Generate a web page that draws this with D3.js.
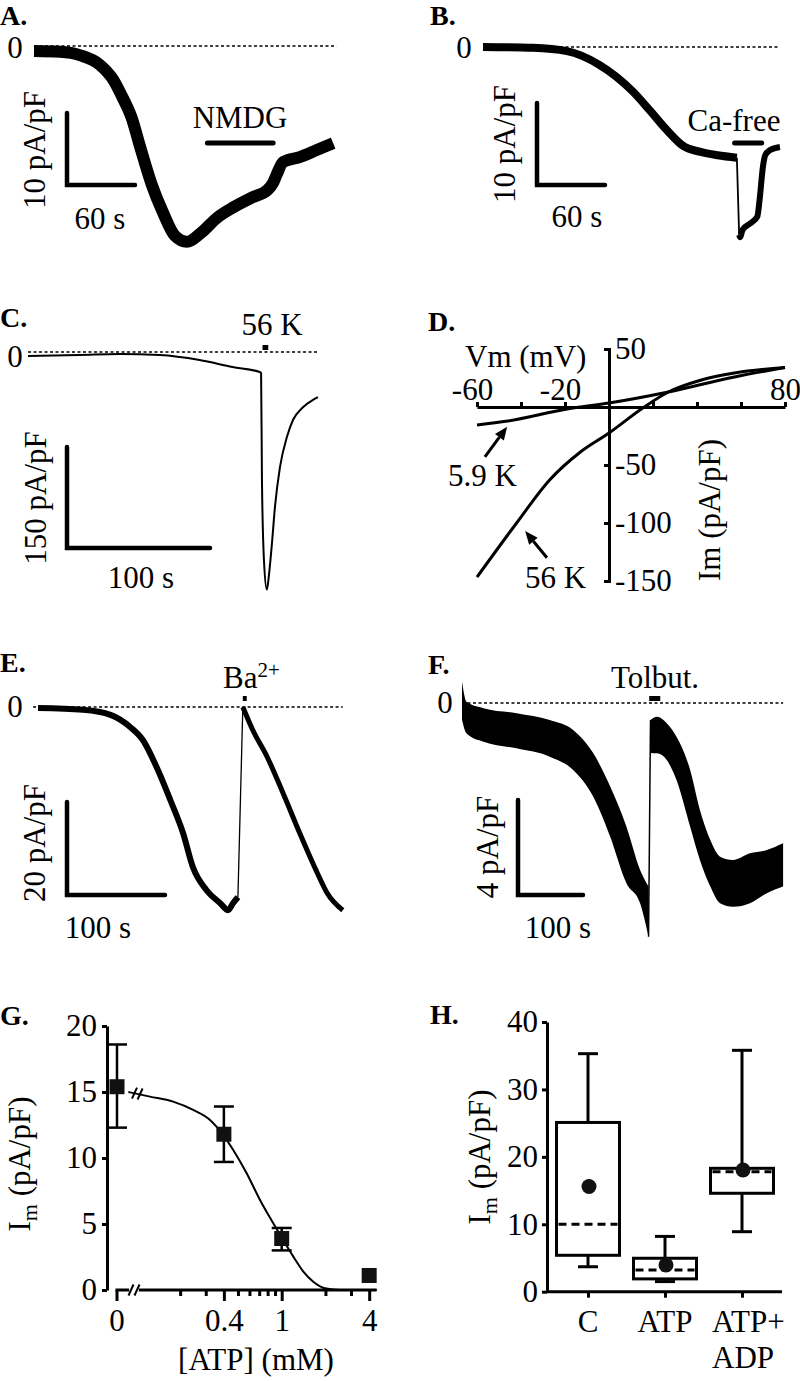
<!DOCTYPE html>
<html>
<head>
<meta charset="utf-8">
<script src="https://cdn.jsdelivr.net/npm/d3@7"></script>
<style>
  body { margin: 0; background: #fff; }
  svg text { font-family: "Liberation Serif", "Times New Roman", Times, "DejaVu Serif", "Noto Serif", serif; fill: #000; }
</style>
</head>
<body>
<svg id="fig" width="800" height="1381"></svg>
<script>
// ---- data: time in s, current in pA/pF ----

// A. NMDG
const aTime = [0, 23, 41, 58, 70, 78, 86, 94, 104, 114, 124, 135, 147, 162, 176, 193, 206, 211, 214, 220, 235, 250, 264];
const aCurrent = [-0.7, -0.8, -1.3, -2.6, -4.7, -7.1, -9.9, -14.2, -19.3, -23.2, -26.3, -27.2, -26.0, -23.8, -22.4, -21.0, -20.0, -19.0, -17.9, -16.1, -15.4, -14.4, -13.5];
const aNmdg = [153, 211];
const aZero = [0, 267];

// B. Ca-free
const bTime1 = [0, 44, 74, 103, 132, 147, 162, 177, 192, 207, 224];
const bCurrent1 = [0, -0.1, -0.5, -2.2, -5.4, -7.7, -10.1, -12.1, -12.8, -13.2, -13.5];
const bTime2 = [226, 227, 229, 236, 242, 244, 247, 249, 253, 262];
const bCurrent2 = [-22.9, -23.2, -22.3, -21.5, -20.7, -18.7, -14.6, -13.2, -12.6, -12.2];
const bCaFree = [222, 246];
const bZero = [0, 262];

// C. 56 K
const cTime = [0, 36, 64, 92, 120, 143, 162, 163, 163.6, 165, 167, 168.5, 170.6, 172.7, 176.2, 181.1, 185.3, 192.3, 199.3, 202.8];
const cCurrent = [-5.9, -4.5, -3.0, -4.5, -11.9, -22.3, -29.7, -31.2, -190, -309, -353, -331, -284, -230, -171, -126, -101, -82, -71, -67];
const cPulse = [164, 168];
const cZero = [0, 203];

// D. I-V relations (Vm in mV, Im in pA/pF)
const dVm59 = [-60, -46, -19, 0, 27, 57, 80];
const dIm59 = [-15.5, -12.1, -1.7, 3.4, 12.9, 25.9, 34];
const dVm56 = [-60, -42, -27, -13, 0, 16, 27, 42, 57, 80];
const dIm56 = [-146.6, -100, -62.9, -38.8, -22.4, 0, 12.9, 23.3, 29.3, 34];
const dXTicks = [-60, -40, -20, 0, 20, 40, 60, 80];
const dXLabels = [-60, -20, 80];
const dYTicks = [50, -50, -100, -150];

// E. Ba2+
const eTime1 = [0, 46, 74, 94, 107, 121, 135, 148, 158, 172, 186, 194, 199, 204];
const eCurrent1 = [-0.2, -0.6, -1.7, -4.3, -7.1, -12.9, -20.0, -27.1, -34.4, -39.4, -42.2, -43.7, -42.2, -40.9];
const eTime2 = [209, 219, 234, 250, 267, 285, 295, 311];
const eCurrent2 = [0, -4.9, -10.8, -18.5, -27.1, -35.7, -40.0, -43.7];
const eBa = [209, 213];
const eZero = [-5, 311];

// F. Tolbutamide (noise band, upper / lower edge)
const fTime1 = [0, 7, 33, 84, 135, 171, 202, 228, 253, 274, 287];
const fHigh1 = [0.9, 0.05, -0.22, -0.43, -0.72, -1.14, -2.12, -3.52, -5.21, -7.03, -7.73];
const fLow1 = [-0.7, -1.28, -1.63, -1.91, -2.26, -2.82, -3.95, -5.63, -7.59, -8.43, -9.84];
const fTime2 = [290, 300, 315, 330, 351, 366, 382, 397, 417, 443, 469, 494];
const fHigh2 = [-0.72, -0.58, -0.85, -1.42, -2.82, -4.51, -5.77, -6.47, -6.61, -6.33, -6.19, -5.91];
const fLow2 = [-2.1, -2.12, -2.40, -3.24, -5.21, -6.61, -7.73, -8.43, -8.58, -8.43, -8.01, -7.73];
const fTolbut = [288, 305];
const fZero = [0, 494];

// G. ATP dose-response
const gAtp = [0, 0.4, 1, 4];
const gMean = [15.4, 11.8, 3.9, 1.1];
const gErrHigh = [18.6, 13.9, 4.7, null];
const gErrLow = [12.3, 9.7, 3.0, null];
const gFitAtp = [0.088, 0.124, 0.179, 0.246, 0.321, 0.396, 0.464, 0.574, 0.709, 0.875, 1.016, 1.202, 1.409, 1.649, 1.986, 2.52, 4.5];
const gFitIm = [15.0, 14.65, 14.27, 13.64, 12.88, 11.74, 10.61, 8.84, 6.82, 5.05, 3.84, 2.53, 1.39, 0.63, 0.13, 0, 0];
const gYTicks = [0, 5, 10, 15, 20];
const gMajorTicks = [0.4, 1, 4];
const gMinorTicks = [0.2, 0.3, 0.5, 0.6, 0.7, 0.8, 0.9, 2, 3];

// H. box plots
const hGroups = ['C', 'ATP', 'ATP+ADP'];
const hWhiskLow = [3.7, 1.5, 8.9];
const hQ1 = [5.4, 1.9, 14.6];
const hMedian = [10.0, 3.2, 17.8];
const hQ3 = [25.1, 4.96, 18.3];
const hWhiskHigh = [35.3, 8.2, 35.8];
const hMean = [15.6, 3.96, 18.06];
const hYTicks = [0, 10, 20, 30, 40];

// ---- drawing ----
const FONT = '"Liberation Serif", "Times New Roman", Times, "DejaVu Serif", "Noto Serif", serif';
const svg = d3.select('#fig').attr('font-family', FONT);
svg.append('rect').attr('width', 800).attr('height', 1381).attr('fill', '#fff');

function addText(x, y, str, o = {}) {
  return svg.append('text')
    .attr('x', x).attr('y', y)
    .attr('font-family', FONT)
    .attr('text-anchor', o.anchor || 'middle')
    .attr('font-size', o.size || 31)
    .attr('font-weight', o.bold ? 'bold' : null)
    .text(str);
}

function addVText(cx, cy, str, size = 31) {
  return svg.append('text')
    .attr('transform', `translate(${cx},${cy}) rotate(-90)`)
    .attr('font-family', FONT)
    .attr('text-anchor', 'middle')
    .attr('dy', '0.25em')
    .attr('font-size', size)
    .text(str);
}

function zeroLine(xs, ys, span) {
  svg.append('line')
    .attr('x1', xs(span[0])).attr('x2', xs(span[1]))
    .attr('y1', ys(0)).attr('y2', ys(0))
    .attr('stroke', '#000').attr('stroke-width', 1.3)
    .attr('stroke-dasharray', '3,2.5');
}

function trace(xs, ys, t, v, w) {
  const pts = t.map((d, i) => [xs(d), ys(v[i])]);
  svg.append('path')
    .attr('d', d3.line().curve(d3.curveMonotoneX)(pts))
    .attr('fill', 'none').attr('stroke', '#000').attr('stroke-width', w)
    .attr('stroke-linejoin', 'round');
}

function link(xs, ys, t0, v0, t1, v1, w) {
  svg.append('line')
    .attr('x1', xs(t0)).attr('y1', ys(v0))
    .attr('x2', xs(t1)).attr('y2', ys(v1))
    .attr('stroke', '#000').attr('stroke-width', w);
}

function scaleBar(x, y, xs, ys, dt, dI) {
  const w = xs(dt) - xs(0);
  const h = Math.abs(ys(dI) - ys(0));
  svg.append('path')
    .attr('d', `M${x},${y - h}V${y}H${x + w}`)
    .attr('fill', 'none').attr('stroke', '#000').attr('stroke-width', 4.5)
    .attr('stroke-linecap', 'round');
}

function barMark(xs, span, y, w) {
  svg.append('line')
    .attr('x1', xs(span[0])).attr('x2', xs(span[1]))
    .attr('y1', y).attr('y2', y)
    .attr('stroke', '#000').attr('stroke-width', w).attr('stroke-linecap', 'round');
}

function boxMark(xs, span, y, h) {
  svg.append('rect')
    .attr('x', xs(span[0])).attr('y', y)
    .attr('width', xs(span[1]) - xs(span[0])).attr('height', h)
    .attr('fill', '#000');
}

function styleAxis(g) {
  g.attr('font-size', 31).attr('font-family', FONT);
  g.selectAll('text').attr('font-family', FONT);
  g.selectAll('path, line').attr('stroke', '#000').attr('stroke-width', 3);
  return g;
}

// panel letters
[['A.', 0, 25], ['B.', 430, 25], ['C.', 0, 327], ['D.', 428, 331],
 ['E.', 0, 672], ['F.', 428, 674], ['G.', 0, 1025], ['H.', 430, 1024]]
  .forEach(([s, x, y]) => addText(x, y, s, { anchor: 'start', bold: true, size: 28 }));

// ----- A -----
const xA = d3.scaleLinear().domain([0, 60]).range([34, 102]);
const yA = d3.scaleLinear().domain([0, -10]).range([46, 118]);
zeroLine(xA, yA, aZero);
trace(xA, yA, aTime, aCurrent, 12);
barMark(xA, aNmdg, 143, 5);
addText(240, 128, 'NMDG');
addText(15, 58, '0');
scaleBar(67, 185, xA, yA, 60, -10);
addVText(37, 150, '10 pA/pF');
addText(100, 229, '60 s');

// ----- B -----
const xB = d3.scaleLinear().domain([0, 60]).range([483, 551]);
const yB = d3.scaleLinear().domain([0, -10]).range([47, 129]);
zeroLine(xB, yB, bZero);
trace(xB, yB, bTime1, bCurrent1, 8);
link(xB, yB, bTime1[bTime1.length - 1], bCurrent1[bCurrent1.length - 1], bTime2[0], bCurrent2[0], 1.8);
trace(xB, yB, bTime2, bCurrent2, 6);
barMark(xB, bCaFree, 143, 5);
addText(734, 131, 'Ca-free');
addText(464, 58, '0');
scaleBar(537, 185, xB, yB, 60, -10);
addVText(507, 144, '10 pA/pF');
addText(577, 227, '60 s');

// ----- C -----
const xC = d3.scaleLinear().domain([0, 100]).range([28, 171]);
const yC = d3.scaleLinear().domain([0, -150]).range([352, 453]);
zeroLine(xC, yC, cZero);
trace(xC, yC, cTime, cCurrent, 2);
boxMark(xC, cPulse, 345, 5);
addText(272, 335, '56 K');
addText(15, 367, '0');
scaleBar(67, 548, xC, yC, 100, -150);
addVText(38, 498, '150 pA/pF');
addText(141, 588, '100 s');

// ----- D -----
const xD = d3.scaleLinear().domain([-60, 80]).range([477, 785]);
const yD = d3.scaleLinear().domain([-150, 50]).range([581, 349]);
const dxAxis = svg.append('g').attr('transform', `translate(0,${yD(0)})`)
  .call(d3.axisTop(xD).tickValues(dXTicks).tickSize(5).tickSizeOuter(0).tickPadding(2)
    .tickFormat(d => dXLabels.includes(d) ? String(d) : ''));
styleAxis(dxAxis);
dxAxis.selectAll('text').attr('dx', d => d < 0 ? -5 : 0);
const dyAxis = svg.append('g').attr('transform', `translate(${xD(0)},0)`)
  .call(d3.axisRight(yD).tickValues(dYTicks).tickSize(-5).tickSizeOuter(-5).tickPadding(6)
    .tickFormat(d => String(d)));
styleAxis(dyAxis);
const ivLine = d3.line().curve(d3.curveMonotoneX);
svg.append('path').attr('d', ivLine(dVm59.map((v, i) => [xD(v), yD(dIm59[i])])))
  .attr('fill', 'none').attr('stroke', '#000').attr('stroke-width', 3);
svg.append('path').attr('d', ivLine(dVm56.map((v, i) => [xD(v), yD(dIm56[i])])))
  .attr('fill', 'none').attr('stroke', '#000').attr('stroke-width', 3);
addText(465, 367, 'Vm (mV)', { anchor: 'start' });
addVText(712, 510, 'Im (pA/pF)');

function arrow(from, to) {
  const x0 = xD(from[0]), y0 = yD(from[1]), x1 = xD(to[0]), y1 = yD(to[1]);
  const a = Math.atan2(y1 - y0, x1 - x0);
  const L = 13, W = 5.5;
  const bx = x1 - L * Math.cos(a), by = y1 - L * Math.sin(a);
  svg.append('line').attr('x1', x0).attr('y1', y0).attr('x2', bx).attr('y2', by)
    .attr('stroke', '#000').attr('stroke-width', 3);
  svg.append('path')
    .attr('d', `M${x1},${y1}L${bx - W * Math.sin(a)},${by + W * Math.cos(a)}L${bx + W * Math.sin(a)},${by - W * Math.cos(a)}Z`)
    .attr('fill', '#000');
}
arrow([-56.4, -43], [-46.3, -17]);
arrow([-28.2, -130], [-38.1, -107]);
addText(448, 486, '5.9 K', { anchor: 'start' });
addText(525, 588, '56 K', { anchor: 'start' });

// ----- E -----
const xE = d3.scaleLinear().domain([0, 100]).range([38, 136]);
const yE = d3.scaleLinear().domain([0, -20]).range([707, 800]);
zeroLine(xE, yE, eZero);
trace(xE, yE, eTime1, eCurrent1, 6);
link(xE, yE, eTime1[eTime1.length - 1], eCurrent1[eCurrent1.length - 1], eTime2[0], eCurrent2[0], 1.3);
trace(xE, yE, eTime2, eCurrent2, 5);
boxMark(xE, eBa, 696, 5);
const baText = svg.append('text').attr('x', 223).attr('y', 688).attr('font-size', 31).attr('font-family', FONT);
baText.append('tspan').text('Ba');
baText.append('tspan').attr('font-size', 21).attr('dy', -11).text('2+');
addText(15, 717, '0');
scaleBar(67, 895, xE, yE, 100, -20);
addVText(37, 843, '20 pA/pF');
addText(98, 938, '100 s');

// ----- F -----
const xF = d3.scaleLinear().domain([0, 100]).range([462, 527]);
const yF = d3.scaleLinear().domain([0, -4]).range([703, 798]);
zeroLine(xF, yF, fZero);
const band = d3.area().curve(d3.curveMonotoneX)
  .x(d => xF(d[0])).y0(d => yF(d[2])).y1(d => yF(d[1]));
svg.append('path').attr('d', band(fTime1.map((t, i) => [t, fHigh1[i], fLow1[i]]))).attr('fill', '#000');
svg.append('path').attr('d', band(fTime2.map((t, i) => [t, fHigh2[i], fLow2[i]]))).attr('fill', '#000');
link(xF, yF, fTime1[fTime1.length - 1], fLow1[fLow1.length - 1], fTime2[0], fHigh2[0], 1.5);
boxMark(xF, fTolbut, 696, 5);
addText(655, 688, 'Tolbut.');
addText(445, 713, '0');
scaleBar(518, 895, xF, yF, 100, -4);
addVText(490, 847, '4 pA/pF');
addText(558, 938, '100 s');

// ----- G -----
const yG = d3.scaleLinear().domain([0, 20]).range([1290, 1026]);
const xG = d3.scaleLog().domain([0.1, 1]).range([136.4, 281.7]);
const gZeroPos = 117;
const gx = d => d === 0 ? gZeroPos : xG(d);

const gyAxis = svg.append('g').attr('transform', 'translate(107,0)')
  .call(d3.axisLeft(yG).tickValues(gYTicks).tickSize(5).tickSizeOuter(0).tickPadding(5));
styleAxis(gyAxis);

const gMajor = svg.append('g').attr('transform', `translate(0,${yG(0)})`)
  .call(d3.axisBottom(xG).tickValues(gMajorTicks).tickSize(11).tickPadding(8).tickFormat(d => String(d)));
gMajor.select('.domain').remove();
styleAxis(gMajor);
const gMinor = svg.append('g').attr('transform', `translate(0,${yG(0)})`)
  .call(d3.axisBottom(xG).tickValues(gMinorTicks).tickSize(6).tickFormat(''));
gMinor.select('.domain').remove();
styleAxis(gMinor);

// axis line with break
const axisStroke = sel => sel.attr('stroke', '#000').attr('stroke-width', 3);
svg.append('line').attr('x1', gZeroPos - 1.5).attr('x2', 129).attr('y1', yG(0)).attr('y2', yG(0)).call(axisStroke);
svg.append('line').attr('x1', xG(0.104)).attr('x2', xG(4.5)).attr('y1', yG(0)).attr('y2', yG(0)).call(axisStroke);
svg.append('line').attr('x1', gZeroPos).attr('x2', gZeroPos).attr('y1', yG(0)).attr('y2', yG(0) + 11).call(axisStroke);
addText(gZeroPos, 1331, '0');
function slash(x, y) {
  svg.append('line').attr('x1', x - 2.5).attr('y1', y + 5.5).attr('x2', x + 2.5).attr('y2', y - 5.5)
    .attr('stroke', '#000').attr('stroke-width', 2);
}
slash(131, yG(0));
slash(137, yG(0));

// fit curve
svg.append('path')
  .attr('d', d3.line().curve(d3.curveMonotoneX)(gFitAtp.map((a, i) => [xG(a), yG(gFitIm[i])])))
  .attr('fill', 'none').attr('stroke', '#000').attr('stroke-width', 2);
slash(xG(0.097), yG(14.92));
slash(xG(0.106), yG(14.85));

// error bars + squares
gAtp.forEach((a, i) => {
  const x = gx(a);
  if (gErrHigh[i] !== null) {
    svg.append('line').attr('x1', x).attr('x2', x).attr('y1', yG(gErrHigh[i])).attr('y2', yG(gErrLow[i]))
      .attr('stroke', '#000').attr('stroke-width', 2.5);
    [gErrHigh[i], gErrLow[i]].forEach(v => {
      svg.append('line').attr('x1', x - 10).attr('x2', x + 10).attr('y1', yG(v)).attr('y2', yG(v))
        .attr('stroke', '#000').attr('stroke-width', 2.5);
    });
  }
  svg.append('rect').attr('x', x - 7.5).attr('y', yG(gMean[i]) - 7.5)
    .attr('width', 15).attr('height', 15).attr('fill', '#111');
});

function imLabel(cx, cy) {
  const t = svg.append('text').attr('transform', `translate(${cx},${cy}) rotate(-90)`)
    .attr('font-family', FONT)
    .attr('text-anchor', 'middle').attr('dy', '0.25em').attr('font-size', 31);
  t.append('tspan').text('I');
  t.append('tspan').attr('font-size', 22).attr('dy', 7).text('m');
  t.append('tspan').attr('dy', -7).text(' (pA/pF)');
}
imLabel(22, 1164);
addText(256, 1370, '[ATP] (mM)');

// ----- H -----
const yH = d3.scaleLinear().domain([0, 40]).range([1291.7, 1022]);
const xH = d3.scalePoint().domain(hGroups).range([588, 742]);
const hyAxis = svg.append('g').attr('transform', 'translate(547,0)')
  .call(d3.axisLeft(yH).tickValues(hYTicks).tickSize(5).tickSizeOuter(0).tickPadding(4));
styleAxis(hyAxis);
svg.append('line').attr('x1', 547).attr('x2', 782).attr('y1', yH(0)).attr('y2', yH(0)).call(axisStroke);
const hxAxis = svg.append('g').attr('transform', `translate(0,${yH(0)})`)
  .call(d3.axisBottom(xH).tickSize(6).tickFormat(''));
hxAxis.select('.domain').remove();
styleAxis(hxAxis);

const boxW = 63, capW = 20;
hGroups.forEach((g, i) => {
  const x = xH(g);
  const ln = (x1, y1, x2, y2) => svg.append('line').attr('x1', x1).attr('y1', y1).attr('x2', x2).attr('y2', y2)
    .attr('stroke', '#000').attr('stroke-width', 3);
  ln(x, yH(hWhiskHigh[i]), x, yH(hQ3[i]));
  ln(x, yH(hQ1[i]), x, yH(hWhiskLow[i]));
  ln(x - capW / 2, yH(hWhiskHigh[i]), x + capW / 2, yH(hWhiskHigh[i]));
  ln(x - capW / 2, yH(hWhiskLow[i]), x + capW / 2, yH(hWhiskLow[i]));
  svg.append('rect').attr('x', x - boxW / 2).attr('y', yH(hQ3[i]))
    .attr('width', boxW).attr('height', yH(hQ1[i]) - yH(hQ3[i]))
    .attr('fill', '#fff').attr('stroke', '#000').attr('stroke-width', 3);
  ln(x - boxW / 2 + 2, yH(hMedian[i]), x + boxW / 2 - 2, yH(hMedian[i])).attr('stroke-dasharray', '8,5');
  svg.append('circle').attr('cx', x + 1).attr('cy', yH(hMean[i])).attr('r', 7.5).attr('fill', '#111');
});
addText(xH('C'), 1332, 'C');
addText(xH('ATP'), 1332, 'ATP');
addText(xH('ATP+ADP') - 30, 1332, 'ATP+', { anchor: 'start' });
addText(xH('ATP+ADP') - 30, 1368, 'ADP', { anchor: 'start' });
imLabel(482, 1157);
</script>
</body>
</html>
